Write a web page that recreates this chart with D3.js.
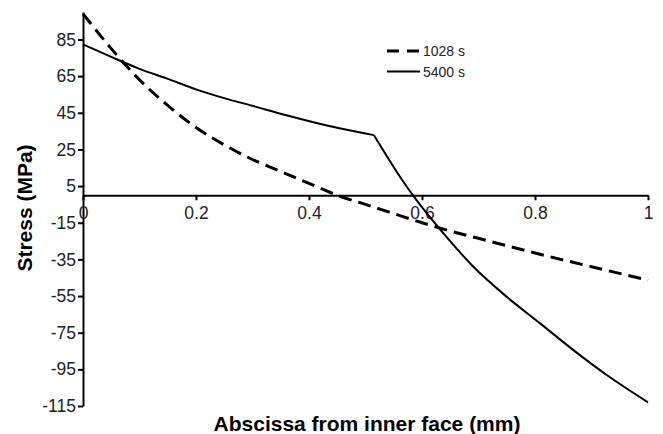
<!DOCTYPE html>
<html>
<head>
<meta charset="utf-8">
<script src="https://cdn.jsdelivr.net/npm/d3@7"></script>
<style>
  body { margin: 0; background: #fff; }
  svg { display: block; font-family: "Liberation Sans", Arial, sans-serif; }
</style>
</head>
<body>
<script>
// series (abscissa mm, stress MPa)
var xs1028 = [0, 0.05, 0.1, 0.15, 0.2, 0.25, 0.3, 0.35, 0.4, 0.45, 0.5, 0.55, 0.6, 0.65, 0.7, 0.8, 0.9, 1];
var ys1028 = [99, 80, 63, 49, 37, 27.5, 19.5, 13, 6.5, 0, -5, -10, -15, -19.5, -23.5, -31.5, -39, -46.3];
var xs5400 = [0, 0.05, 0.1, 0.15, 0.2, 0.25, 0.3, 0.36, 0.44, 0.515, 0.567, 0.585, 0.638, 0.691, 0.75, 0.809, 0.868, 0.927, 1];
var ys5400 = [82.3, 75.5, 69, 63.5, 57.8, 53, 48.8, 43.7, 37.5, 32.8, 7.4, -0.5, -20.8, -39, -55.4, -69.9, -84.5, -98.1, -113];
var kink5400 = 0.515;
var seriesNames = ["1028 s", "5400 s"];
var xTicks = [0, 0.2, 0.4, 0.6, 0.8, 1];
var yTicks = [85, 65, 45, 25, 5, -15, -35, -55, -75, -95, -115];

var width = 663, height = 434;
var svg = d3.select("body").append("svg")
  .attr("width", width)
  .attr("height", height);

var x = d3.scaleLinear().domain([0, 1]).range([83, 648]);
var y = d3.scaleLinear().domain([-115, 100]).range([406, 12]);

// y axis
var yAxis = svg.append("g")
  .attr("transform", "translate(" + x(0) + ",0)")
  .call(d3.axisLeft(y).tickValues(yTicks).tickSize(5).tickSizeOuter(0).tickFormat(d3.format("d")));
yAxis.select(".domain").attr("stroke", "#000").attr("stroke-width", 2);
yAxis.selectAll(".tick line").attr("stroke", "#000").attr("stroke-width", 2);
yAxis.selectAll(".tick text")
  .attr("x", -7)
  .attr("font-size", "17.5px")
  .attr("fill", "#222")
  .text(function (d) { return d < 0 ? "-" + Math.abs(d) : d; });

// x axis sits on zero stress
var xAxis = svg.append("g")
  .attr("transform", "translate(0," + y(0) + ")")
  .call(d3.axisBottom(x).tickValues(xTicks).tickSize(5).tickSizeOuter(0).tickFormat(function (d) { return d === 0 || d === 1 ? d : d.toFixed(1); }));
xAxis.select(".domain").attr("stroke", "#000").attr("stroke-width", 2);
xAxis.selectAll(".tick line").attr("stroke", "#000").attr("stroke-width", 2);
xAxis.selectAll(".tick text")
  .attr("y", 11)
  .attr("font-size", "17.5px")
  .attr("fill", "#222");

var smooth = d3.line()
  .x(function (d) { return x(d[0]); })
  .y(function (d) { return y(d[1]); })
  .curve(d3.curveMonotoneX);

var data1028 = xs1028.map(function (v, i) { return [v, ys1028[i]]; });
var data5400 = xs5400.map(function (v, i) { return [v, ys5400[i]]; });

svg.append("path")
  .datum(data1028)
  .attr("d", smooth)
  .attr("fill", "none")
  .attr("stroke", "#000")
  .attr("stroke-width", 3)
  .attr("stroke-dasharray", "13,7");

// the 5400 s curve has a sharp corner: draw it as two smooth pieces
var pieces = [
  data5400.filter(function (d) { return d[0] <= kink5400; }),
  data5400.filter(function (d) { return d[0] >= kink5400; })
];
svg.selectAll("path.solid")
  .data(pieces)
  .enter().append("path")
  .attr("class", "solid")
  .attr("d", smooth)
  .attr("fill", "none")
  .attr("stroke", "#000")
  .attr("stroke-width", 2)
  .attr("stroke-linejoin", "round");

// legend
var legend = svg.append("g");
seriesNames.forEach(function (name, i) {
  var ly = 51 + i * 20.5;
  legend.append("line")
    .attr("x1", 387).attr("x2", 420)
    .attr("y1", ly).attr("y2", ly)
    .attr("stroke", "#000")
    .attr("stroke-width", i === 0 ? 3 : 2)
    .attr("stroke-dasharray", i === 0 ? "12,8" : null);
  legend.append("text")
    .attr("x", 423)
    .attr("y", ly + 5)
    .attr("font-size", "14px")
    .attr("fill", "#222")
    .text(name);
});

// axis titles
svg.append("text")
  .attr("x", 367)
  .attr("y", 431)
  .attr("text-anchor", "middle")
  .attr("font-size", "21px")
  .attr("font-weight", "bold")
  .text("Abscissa from inner face (mm)");

svg.append("text")
  .attr("transform", "translate(32,208) rotate(-90)")
  .attr("text-anchor", "middle")
  .attr("font-size", "21px")
  .attr("font-weight", "bold")
  .text("Stress (MPa)");
</script>
</body>
</html>
